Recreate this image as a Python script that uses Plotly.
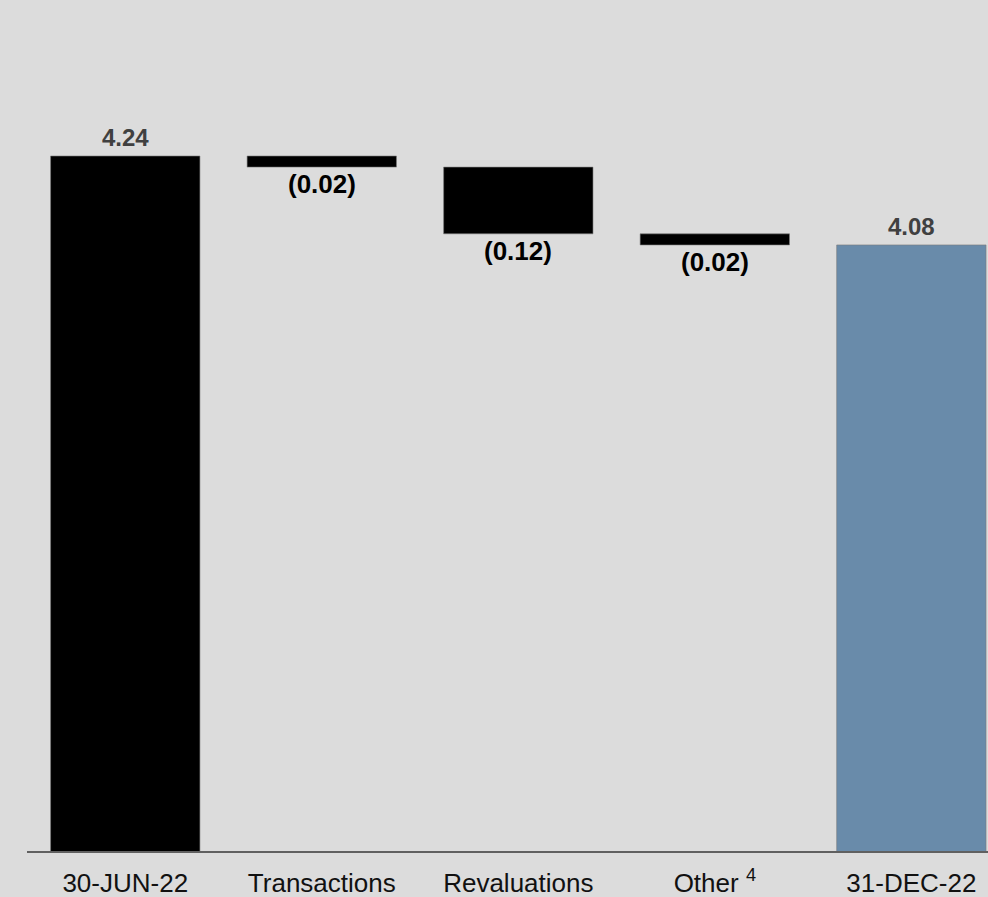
import plotly.graph_objects as go

categories = ["30-JUN-22", "Transactions", "Revaluations", "Other <sup>4</sup>", "31-DEC-22"]
values = [4.24, -0.02, -0.12, -0.02, 4.08]
kinds = ["total", "delta", "delta", "delta", "total"]
colors = ["#000000", "#000000", "#000000", "#000000", "#698BAA"]

def fmt(v):
    return f"({abs(v):.2f})" if v < 0 else f"{v:.2f}"

bases, heights, label_y, label_anchor, label_text, label_color, label_size = [], [], [], [], [], [], []
running = 0.0
for v, k in zip(values, kinds):
    if k == "total":
        bases.append(0.0)
        heights.append(v)
        running = v
        label_y.append(v)
        label_anchor.append("bottom")
        label_color.append("#404040")
        label_size.append(24)
    else:
        new = running + v
        bases.append(min(running, new))
        heights.append(abs(v))
        label_y.append(min(running, new))
        label_anchor.append("top")
        label_color.append("#000000")
        label_size.append(26)
        running = new
    label_text.append(fmt(v))

fig = go.Figure()
fig.add_trace(go.Bar(
    x=categories, y=heights, base=bases,
    marker=dict(color=colors, line=dict(color="#7a7a7a", width=0.6)),
    width=0.76, hoverinfo="skip",
))

for c, y, a, t, col, s in zip(categories, label_y, label_anchor, label_text, label_color, label_size):
    fig.add_annotation(
        x=c, y=y, text=f"<b>{t}</b>", showarrow=False,
        yanchor=a, yshift=3 if a == "bottom" else 0,
        font=dict(family="Liberation Sans, Arial, sans-serif", size=s, color=col),
    )

fig.update_layout(
    width=988, height=897,
    margin=dict(l=27, r=0, t=0, b=46),
    paper_bgcolor="#DCDCDC", plot_bgcolor="#DCDCDC",
    showlegend=False,
    bargap=0.24,
    xaxis=dict(
        range=[-0.5, 4.39], showline=True, linecolor="#606060", linewidth=2,
        showgrid=False, zeroline=False, ticks="", ticklabelstandoff=8,
        tickfont=dict(family="Liberation Sans, Arial, sans-serif", size=26, color="#111111"),
    ),
    yaxis=dict(
        range=[2.99, 2.99 + 851 / 556], visible=False, showgrid=False, zeroline=False,
    ),
)

fig.write_html("out.html")
